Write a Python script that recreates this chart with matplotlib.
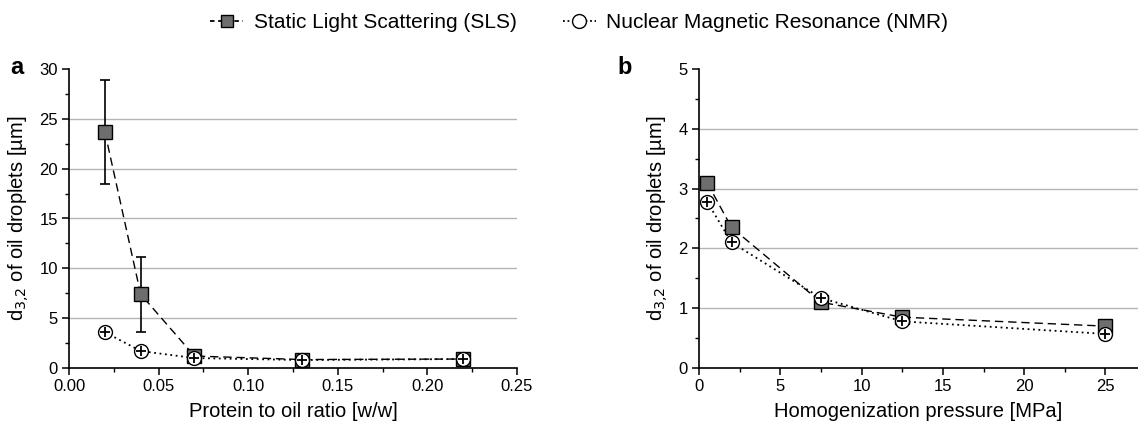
import matplotlib
matplotlib.use("Agg")
import matplotlib.pyplot as plt
from matplotlib.lines import Line2D
from matplotlib.ticker import MultipleLocator

plt.rcParams["font.family"] = ["Liberation Sans", "DejaVu Sans"]

# panel a: protein to oil ratio
ratio = [0.02, 0.04, 0.07, 0.13, 0.22]
sls_a = [23.7, 7.4, 1.2, 0.85, 0.9]
sls_a_err = [5.2, 3.75, 0.2, 0.1, 0.1]
nmr_a = [3.6, 1.7, 1.0, 0.8, 0.9]

# panel b: homogenization pressure
pressure = [0.5, 2, 7.5, 12.5, 25]
sls_b = [3.1, 2.35, 1.1, 0.85, 0.7]
sls_b_err = [0.06, 0.06, 0.05, 0.05, 0.06]
nmr_b = [2.78, 2.1, 1.17, 0.78, 0.57]

grid_a = [5, 10, 15, 20, 25]
grid_b = [1, 2, 3, 4]

SQ_FACE = "#6e6e6e"
GRID = "#b4b4b4"


def draw(ax, x, sls, sls_err, nmr):
    ax.plot(x, sls, color="black", lw=1.0, ls=(0, (6, 3.5)), zorder=2)
    ax.plot(x, nmr, color="black", lw=1.3, ls=(0, (1, 2)), zorder=2)
    ax.errorbar(x, sls, yerr=sls_err, fmt="none", ecolor="black",
                elinewidth=1.2, capsize=3.5, capthick=1.2, zorder=3)
    ax.plot(x, sls, ls="none", marker="s", ms=9.5, mfc=SQ_FACE, mec="black",
            mew=1.0, zorder=4)
    ax.plot(x, nmr, ls="none", marker="o", ms=10, mfc="white", mec="black",
            mew=1.0, zorder=5)
    ax.plot(x, nmr, ls="none", marker="+", ms=7, mec="black", mew=1.3,
            zorder=6)


def style(ax, ymax, grid, xlabel):
    for side in ("top", "right"):
        ax.spines[side].set_visible(False)
    ax.spines["left"].set_linewidth(1.2)
    ax.spines["bottom"].set_linewidth(1.2)
    ax.tick_params(which="major", direction="out", length=5, width=1.1,
                   labelsize=12, pad=3)
    ax.tick_params(which="minor", direction="out", length=3, width=1.0)
    ax.set_ylim(0, ymax)
    for g in grid:
        ax.axhline(g, color=GRID, lw=1.0, zorder=0)
    ax.set_xlabel(xlabel, fontsize=14.5, labelpad=6)
    ax.set_ylabel(r"d$_{3{,}2}$ of oil droplets [µm]", fontsize=14.5,
                  labelpad=6)


fig = plt.figure(figsize=(11.38, 4.23), dpi=100)
ax_a = fig.add_axes([69 / 1138, 55 / 423, 448 / 1138, 299 / 423])
ax_b = fig.add_axes([699 / 1138, 55 / 423, 439 / 1138, 299 / 423])

draw(ax_a, ratio, sls_a, sls_a_err, nmr_a)
style(ax_a, 30, grid_a, "Protein to oil ratio [w/w]")
ax_a.set_xlim(0, 0.25)
ax_a.xaxis.set_major_locator(MultipleLocator(0.05))
ax_a.xaxis.set_minor_locator(MultipleLocator(0.025))
ax_a.yaxis.set_major_locator(MultipleLocator(5))
ax_a.yaxis.set_minor_locator(MultipleLocator(2.5))
ax_a.xaxis.set_major_formatter(lambda v, p: f"{v:.2f}")

draw(ax_b, pressure, sls_b, sls_b_err, nmr_b)
style(ax_b, 5, grid_b, "Homogenization pressure [MPa]")
ax_b.set_xlim(0, 27.0)
ax_b.set_xticks([0, 5, 10, 15, 20, 25])
ax_b.xaxis.set_minor_locator(MultipleLocator(2.5))
ax_b.yaxis.set_major_locator(MultipleLocator(1))
ax_b.yaxis.set_minor_locator(MultipleLocator(0.5))

fig.text(10 / 1138, 1 - 68 / 423, "a", fontsize=17, fontweight="bold",
         va="center", ha="left")
fig.text(617 / 1138, 1 - 68 / 423, "b", fontsize=17, fontweight="bold",
         va="center", ha="left")

handles = [
    Line2D([], [], color="black", lw=1.3, ls=(0, (2.5, 2)), marker="s",
           ms=9, mfc=SQ_FACE, mec="black"),
    Line2D([], [], color="black", lw=1.3, ls=(0, (1, 1.5)), marker="o",
           ms=10, mfc="white", mec="black"),
]
fig.legend(handles, ["Static Light Scattering (SLS)",
                     "Nuclear Magnetic Resonance (NMR)"],
           loc="center", bbox_to_anchor=(0.509, 1 - 23 / 423), ncol=2,
           frameon=False, fontsize=15, handlelength=1.6, handletextpad=0.5,
           columnspacing=2.2)

fig.savefig("out.png", dpi=100)
